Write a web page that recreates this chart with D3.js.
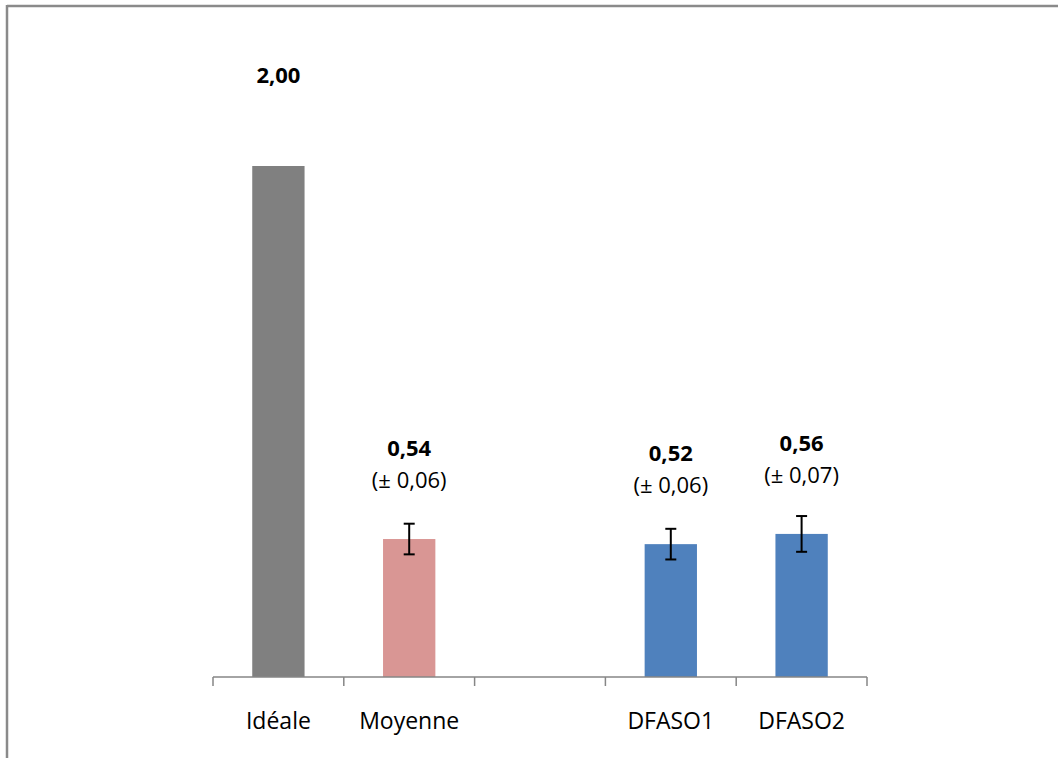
<!DOCTYPE html>
<html>
<head>
<meta charset="utf-8">
<script src="https://cdn.jsdelivr.net/npm/d3@7"></script>
<style>
html,body{margin:0;padding:0;background:#fff;}
svg{display:block;}
text{font-family:"Open Sans","Liberation Sans",sans-serif;fill:#000;}
</style>
</head>
<body>
<script>
const categories = ["Idéale", "Moyenne", "", "DFASO1", "DFASO2"];
const values = [2.00, 0.54, null, 0.52, 0.56];
const errors = [null, 0.06, null, 0.06, 0.07];
const valueLabels = ["2,00", "0,54", "", "0,52", "0,56"];
const errorLabels = ["", "(± 0,06)", "", "(± 0,06)", "(± 0,07)"];
const colors = ["#808080", "#D99694", null, "#4F81BD", "#4F81BD"];

const W = 1058, H = 758;
const svg = d3.select("body").append("svg").attr("width", W).attr("height", H);

// frame (top + left visible)
svg.append("line").attr("x1", 7).attr("x2", W).attr("y1", 6).attr("y2", 6)
  .attr("stroke", "#8a8a8a").attr("stroke-width", 2.5);
svg.append("line").attr("x1", 7).attr("x2", 7).attr("y1", 5).attr("y2", H)
  .attr("stroke", "#8a8a8a").attr("stroke-width", 2.5);

const x = d3.scaleBand().domain(d3.range(categories.length)).range([213, 867]).paddingInner(0).paddingOuter(0);
const y = d3.scaleLinear().domain([0, 2]).range([677, 166]);
const barW = x.bandwidth() / 2.5;

const data = categories.map((c, i) => ({i, c, v: values[i], e: errors[i], vl: valueLabels[i], el: errorLabels[i], col: colors[i]}));
const bars = data.filter(d => d.v != null);

svg.selectAll("rect.bar").data(bars).enter().append("rect")
  .attr("class", "bar")
  .attr("x", d => x(d.i) + x.bandwidth() / 2 - barW / 2)
  .attr("width", barW)
  .attr("y", d => y(d.v))
  .attr("height", d => y(0) - y(d.v))
  .attr("fill", d => d.col);

// axis
const axisG = svg.append("g").attr("transform", `translate(0,${y(0)})`);
axisG.append("line").attr("x1", x.range()[0]).attr("x2", x.range()[1]).attr("stroke", "#868686").attr("stroke-width", 1.5);
const tickPos = d3.range(categories.length + 1).map(k => x.range()[0] + k * x.step());
axisG.selectAll("line.tick").data(tickPos).enter().append("line")
  .attr("class", "tick").attr("x1", d => d).attr("x2", d => d).attr("y1", 0).attr("y2", 9)
  .attr("stroke", "#868686").attr("stroke-width", 1.5);
axisG.selectAll("text.cat").data(data).enter().append("text")
  .attr("class", "cat")
  .attr("x", d => x(d.i) + x.bandwidth() / 2)
  .attr("y", 44)
  .attr("dy", "0.35em")
  .attr("text-anchor", "middle")
  .attr("font-size", "23px")
  .text(d => d.c);

// error bars
const eb = data.filter(d => d.e != null);
const ebG = svg.selectAll("g.eb").data(eb).enter().append("g").attr("class", "eb")
  .attr("transform", d => `translate(${x(d.i) + x.bandwidth() / 2},0)`);
ebG.append("line").attr("x1", 0).attr("x2", 0).attr("y1", d => y(d.v + d.e)).attr("y2", d => y(d.v - d.e))
  .attr("stroke", "#000").attr("stroke-width", 2);
ebG.append("line").attr("x1", -5.5).attr("x2", 5.5).attr("y1", d => y(d.v + d.e)).attr("y2", d => y(d.v + d.e))
  .attr("stroke", "#000").attr("stroke-width", 2);
ebG.append("line").attr("x1", -5.5).attr("x2", 5.5).attr("y1", d => y(d.v - d.e)).attr("y2", d => y(d.v - d.e))
  .attr("stroke", "#000").attr("stroke-width", 2);

// labels
svg.selectAll("text.vl").data(bars).enter().append("text")
  .attr("class", "vl")
  .attr("x", d => x(d.i) + x.bandwidth() / 2)
  .attr("y", d => y(d.v) - 91)
  .attr("dy", "0.35em")
  .attr("text-anchor", "middle")
  .attr("font-size", "22px")
  .attr("font-weight", "bold")
  .text(d => d.vl);
svg.selectAll("text.el").data(bars.filter(d => d.el)).enter().append("text")
  .attr("class", "el")
  .attr("x", d => x(d.i) + x.bandwidth() / 2)
  .attr("y", d => y(d.v) - 59)
  .attr("dy", "0.35em")
  .attr("text-anchor", "middle")
  .attr("font-size", "22px")
  .text(d => d.el);
</script>
</body>
</html>
